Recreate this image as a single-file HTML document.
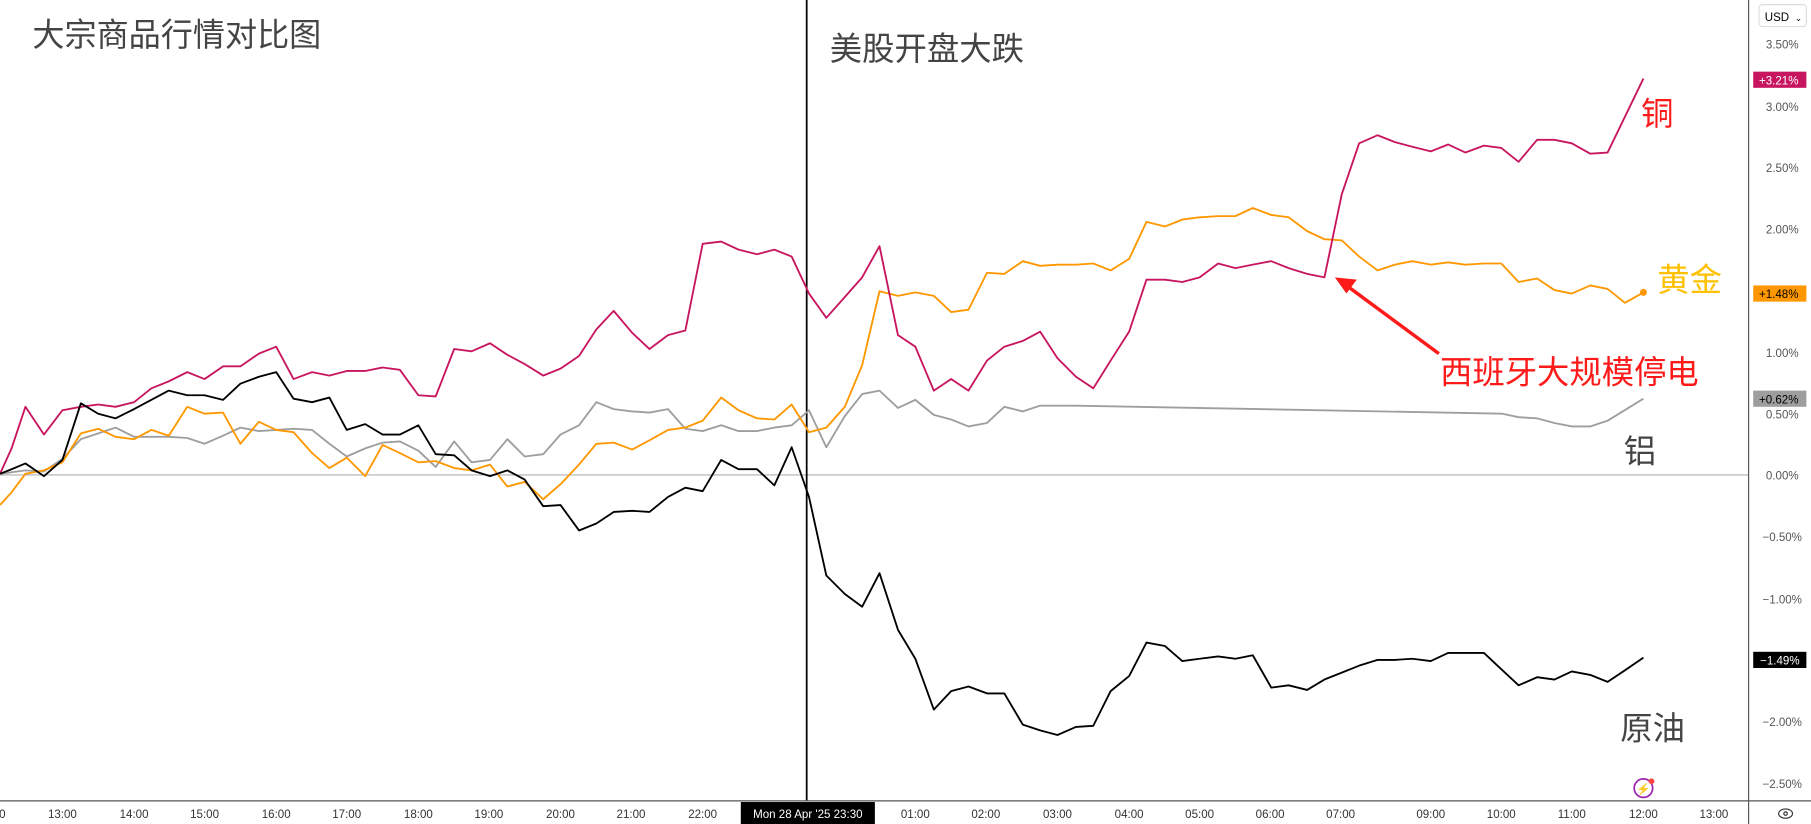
<!DOCTYPE html>
<html><head><meta charset="utf-8"><style>
html,body{margin:0;padding:0;background:#fff;width:1811px;height:824px;overflow:hidden}
svg{display:block}
text{font-family:"Liberation Sans","Noto Sans CJK SC",sans-serif}
</style></head><body>
<svg width="1811" height="824" viewBox="0 0 1567 713" preserveAspectRatio="none" xmlns="http://www.w3.org/2000/svg">
<rect width="1567" height="713" fill="#fff"/>
<line x1="0" y1="411" x2="1513" y2="411" stroke="#b0b0b0" stroke-width="1"/>
<line x1="698" y1="0" x2="698" y2="693" stroke="#000" stroke-width="1.5"/>
<line x1="1513" y1="0" x2="1513" y2="713" stroke="#555" stroke-width="1"/>
<line x1="0" y1="693" x2="1567" y2="693" stroke="#555" stroke-width="1"/>
<g fill="none" stroke-width="1.6" stroke-linejoin="round">
<polyline stroke="#9e9e9e" points="0,410 22,407 38,408 54,397 70,380 85,375 100,370 116,378 131,378 146,378 162,379 177,384 193,377 208,370 224,373 239,372 254,371 270,372 285,384 300,395 316,388 331,383 346,382 362,390 377,404 393,382 408,400 424,398 439,380 454,395 470,393 485,376 501,368 516,348 531,354 547,356 562,357 578,354 593,371 608,373 624,368 639,373 655,373 670,370 685,368 700,355 715,387 731,360 746,341 761,338 777,353 792,346 808,359 823,363 838,369 854,366 869,352 885,356 900,351 915,351 931,351 1300,358 1314,361 1330,362 1345,366 1360,369 1376,369 1391,364 1422,345"/>
<polyline stroke="#ff9800" points="0,437 10,426 22,410 38,407 54,400 70,375 85,371 100,378 116,380 131,372 146,377 162,352 177,358 193,357 208,384 224,365 239,372 254,374 270,392 285,405 300,396 316,412 331,385 346,392 362,400 377,399 393,405 408,407 424,402 439,421 454,417 470,432 485,419 501,402 516,384 531,383 547,389 562,381 578,372 593,370 608,364 624,344 639,355 655,362 670,363 685,350 700,374 715,370 731,352 746,316 761,252 777,256 792,253 808,256 823,270 838,268 854,236 869,237 885,226 900,230 915,229 931,229 946,228 961,234 977,224 992,192 1008,196 1023,190 1038,188 1054,187 1069,187 1084,180 1100,186 1115,188 1131,200 1146,207 1161,208 1176,222 1192,234 1207,229 1222,226 1238,229 1253,227 1268,229 1284,228 1299,228 1314,244 1330,241 1345,251 1360,254 1376,247 1391,250 1406,262 1422,253"/>
<polyline stroke="#c8155f" points="0,410 10,388 22,352 38,376 54,355 70,352 85,350 100,352 116,348 131,336 146,330 162,322 177,328 193,317 208,317 224,306 239,300 254,328 270,322 285,325 300,321 316,321 331,318 346,320 362,342 377,343 393,302 408,304 424,297 439,307 454,315 470,325 485,319 501,308 516,285 531,269 547,288 562,302 578,290 593,286 608,211 624,209 639,216 655,220 670,216 685,222 700,254 715,275 731,257 746,240 761,213 777,290 792,300 808,338 823,328 838,338 854,312 869,300 885,295 900,287 915,310 931,326 946,336 961,312 977,287 992,242 1008,242 1023,244 1038,240 1054,228 1069,232 1084,229 1100,226 1115,232 1131,237 1146,240 1161,168 1176,124 1192,117 1207,123 1222,127 1238,131 1253,125 1268,132 1284,126 1299,128 1314,140 1330,121 1345,121 1360,124 1376,133 1391,132 1422,68"/>
<polyline stroke="#000" points="0,410 10,406 22,401 38,412 54,398 70,349 85,358 100,362 116,354 131,346 146,338 162,342 177,342 193,346 208,332 224,326 239,322 254,345 270,348 285,344 300,372 316,367 331,376 346,376 362,368 377,393 393,394 408,407 424,412 439,407 454,415 470,438 485,437 501,459 516,453 531,443 547,442 562,443 578,430 593,422 608,425 624,398 639,406 655,406 670,420 685,387 700,430 715,498 731,514 746,525 761,496 777,545 792,570 808,614 823,598 838,594 854,600 869,600 885,627 900,632 915,636 931,629 946,628 961,598 977,585 992,556 1008,559 1023,572 1038,570 1054,568 1069,570 1084,567 1100,595 1115,593 1131,597 1146,588 1161,582 1176,576 1192,571 1207,571 1222,570 1238,572 1253,565 1268,565 1284,565 1299,579 1314,593 1330,586 1345,588 1360,581 1376,584 1391,590 1406,580 1422,569"/>
</g>
<circle cx="1422" cy="253" r="3" fill="#ff9800"/>
<g font-size="28" fill="#444">
<text x="28" y="40" textLength="250" lengthAdjust="spacingAndGlyphs">大宗商品行情对比图</text>
<text x="718" y="52" textLength="168" lengthAdjust="spacingAndGlyphs">美股开盘大跌</text>
<text x="1405" y="400">铝</text>
<text x="1402" y="640">原油</text>
</g>
<text x="1420" y="108" font-size="28" fill="#ff1a1a">铜</text>
<text x="1434" y="252" font-size="28" fill="#ffc000">黄金</text>
<text x="1246" y="332" font-size="28" fill="#ff1a1a">西班牙大规模停电</text>
<line x1="1245" y1="306" x2="1165" y2="247" stroke="#ff1a1a" stroke-width="3"/>
<polygon points="1155,240 1174,242 1165,254" fill="#ff1a1a"/>
<g font-size="10" fill="#555">
<text x="1528" y="42">3.50%</text><text x="1528" y="96">3.00%</text><text x="1528" y="149">2.50%</text>
<text x="1528" y="202">2.00%</text><text x="1528" y="309">1.00%</text><text x="1528" y="362">0.50%</text>
<text x="1528" y="415">0.00%</text><text x="1525" y="468">−0.50%</text><text x="1525" y="522">−1.00%</text>
<text x="1525" y="628">−2.00%</text><text x="1525" y="682">−2.50%</text>
</g>
<rect x="1522" y="4" width="41" height="19" rx="3" fill="#fff" stroke="#ddd"/>
<text x="1527" y="18" font-size="10" fill="#000">USD</text>
<text x="1553" y="18" font-size="8" fill="#000">⌄</text>
<rect x="1517" y="62" width="46" height="14" fill="#c8155f"/><text x="1522" y="73" font-size="10" fill="#fff">+3.21%</text>
<rect x="1517" y="247" width="46" height="14" fill="#ff9800"/><text x="1522" y="258" font-size="10" fill="#000">+1.48%</text>
<rect x="1517" y="338" width="46" height="14" fill="#9e9e9e"/><text x="1522" y="349" font-size="10" fill="#000">+0.62%</text>
<rect x="1517" y="564" width="46" height="14" fill="#000"/><text x="1523" y="575" font-size="10" fill="#fff">−1.49%</text>
<g font-size="10" fill="#333" text-anchor="middle">
<text x="2" y="708">0</text><text x="54" y="708">13:00</text><text x="116" y="708">14:00</text><text x="177" y="708">15:00</text>
<text x="239" y="708">16:00</text><text x="300" y="708">17:00</text><text x="362" y="708">18:00</text><text x="423" y="708">19:00</text>
<text x="485" y="708">20:00</text><text x="546" y="708">21:00</text><text x="608" y="708">22:00</text>
<text x="792" y="708">01:00</text><text x="853" y="708">02:00</text><text x="915" y="708">03:00</text><text x="977" y="708">04:00</text>
<text x="1038" y="708">05:00</text><text x="1099" y="708">06:00</text><text x="1160" y="708">07:00</text><text x="1238" y="708">09:00</text>
<text x="1299" y="708">10:00</text><text x="1360" y="708">11:00</text><text x="1422" y="708">12:00</text><text x="1483" y="708">13:00</text>
</g>
<rect x="641" y="694" width="116" height="19" fill="#000"/>
<text x="699" y="708" font-size="10" fill="#fff" text-anchor="middle">Mon 28 Apr '25   23:30</text>
<circle cx="1422" cy="682" r="8" fill="none" stroke="#9c27b0" stroke-width="1.5"/>
<text x="1422" y="686" font-size="10" fill="#9c27b0" text-anchor="middle">⚡</text>
<circle cx="1429" cy="676" r="2.5" fill="#f44"/>
<ellipse cx="1545" cy="704" rx="6" ry="4" fill="none" stroke="#333"/>
<circle cx="1545" cy="704" r="1.5" fill="none" stroke="#333"/>
</svg>
</body></html>
